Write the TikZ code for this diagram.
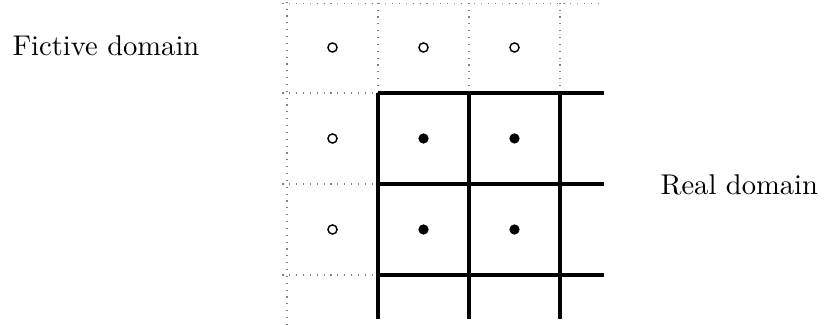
\documentclass[tikz,border=0pt]{standalone}
\usepackage{tikz}
\usetikzlibrary{positioning}

\begin{document}
\begin{tikzpicture}[x=1.12cm, y=1.12cm,
  ghost/.style={circle, draw, line width=0.5pt, inner sep=0pt, minimum size=3.2pt},
  cell/.style={circle, fill, inner sep=0pt, minimum size=3.6pt},
  fgrid/.style={dotted, gray},
  rgrid/.style={line width=1.1pt},
  lbl/.style={font=\normalsize}
]
  \useasboundingbox (-3.154,-0.549) rectangle (5.912,3.022);

  % fictive grid
  \draw[fgrid] (0,-0.549) -- (0,3.022);
  \foreach \x in {1,2,3}
    \draw[fgrid] (\x,2) -- (\x,3.022);
  \draw[fgrid] (-0.05,2.98) -- (3.48,2.98);
  \foreach \y in {0,1,2}
    \draw[fgrid] (-0.05,\y) -- (1,\y);

  % real grid
  \foreach \x in {1,2,3}
    \draw[rgrid] (\x,-0.48) -- (\x,2);
  \foreach \y in {0,1,2}
    \draw[rgrid] (1,\y) -- (3.48,\y);

  % points
  \node[ghost] (f1) at (0.5,2.5) {};
  \node[ghost] (f2) at (1.5,2.5) {};
  \node[ghost] (f3) at (2.5,2.5) {};
  \node[ghost] (f4) at (0.5,1.5) {};
  \node[ghost] (f5) at (0.5,0.5) {};
  \node[cell] (r1) at (1.5,1.5) {};
  \node[cell] (r2) at (2.5,1.5) {};
  \node[cell] (r3) at (1.5,0.5) {};
  \node[cell] (r4) at (2.5,0.5) {};

  \node[lbl] (fictive) at (-1.99,2.52) {Fictive domain};
  \node[lbl] (real) at (4.97,0.99) {Real domain};
\end{tikzpicture}
\end{document}
